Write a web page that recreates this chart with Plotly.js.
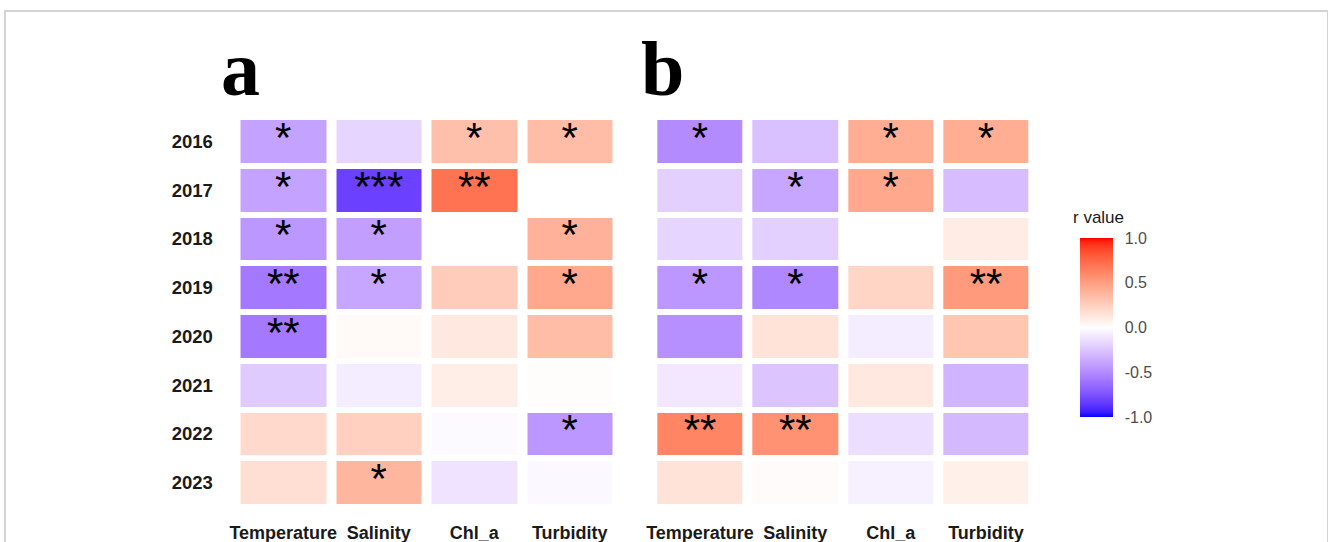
<!DOCTYPE html>
<html>
<head>
<meta charset="utf-8">
<script src="https://cdn.plot.ly/plotly-3.0.1.min.js"></script>
<style>
  html, body { margin: 0; padding: 0; background: #ffffff; }
  #chart { width: 1328px; height: 542px; }
  #frame {
    position: absolute; left: 4px; top: 10px; width: 1321px; height: 600px;
    border-top: 2px solid #d4d4d4; border-left: 2px solid #d4d4d4; border-right: 2px solid #d4d4d4;
    pointer-events: none;
  }
</style>
</head>
<body>
<div id="chart"></div>
<div id="frame"></div>
<script>
// Rows (years) and columns (environmental variables)
const years = ["2016", "2017", "2018", "2019", "2020", "2021", "2022", "2023"];
const variables = ["Temperature", "Salinity", "Chl_a", "Turbidity"];

// Panel a: correlation coefficients per variable, one value per year
const tempA = [-0.40, -0.40, -0.45, -0.58, -0.58, -0.22, 0.20, 0.17];
const salA  = [-0.18, -0.82, -0.42, -0.38, 0.03, -0.08, 0.25, 0.38];
const chlA  = [0.33, 0.70, 0.00, 0.27, 0.12, 0.09, -0.02, -0.12];
const turbA = [0.35, 0.00, 0.40, 0.45, 0.35, 0.01, -0.45, -0.03];

// Panel a: significance marks
const tempSigA = ["*", "*", "*", "**", "**", "", "", ""];
const salSigA  = ["", "***", "*", "*", "", "", "", "*"];
const chlSigA  = ["*", "**", "", "", "", "", "", ""];
const turbSigA = ["*", "", "*", "*", "", "", "*", ""];

// Panel b: correlation coefficients
const tempB = [-0.50, -0.20, -0.18, -0.45, -0.48, -0.10, 0.62, 0.15];
const salB  = [-0.27, -0.38, -0.20, -0.52, 0.15, -0.25, 0.56, 0.02];
const chlB  = [0.42, 0.45, 0.00, 0.22, -0.08, 0.12, -0.14, -0.06];
const turbB = [0.42, -0.28, 0.10, 0.52, 0.30, -0.32, -0.30, 0.08];

// Panel b: significance marks
const tempSigB = ["*", "", "", "*", "", "", "**", ""];
const salSigB  = ["", "*", "", "*", "", "", "**", ""];
const chlSigB  = ["*", "*", "", "", "", "", "", ""];
const turbSigB = ["*", "", "", "**", "", "", "", ""];

// Colour scale blue - white - red, interpolated in CIELAB
function srgbToLin(c) { c /= 255; return c <= 0.04045 ? c / 12.92 : Math.pow((c + 0.055) / 1.055, 2.4); }
function linToSrgb(c) { c = Math.max(0, Math.min(1, c)); return 255 * (c <= 0.0031308 ? 12.92 * c : 1.055 * Math.pow(c, 1 / 2.4) - 0.055); }
const WX = 0.95047, WY = 1.0, WZ = 1.08883;
function rgbToLab(rgb) {
  const r = srgbToLin(rgb[0]), g = srgbToLin(rgb[1]), b = srgbToLin(rgb[2]);
  const X = (0.4124 * r + 0.3576 * g + 0.1805 * b) / WX;
  const Y = (0.2126 * r + 0.7152 * g + 0.0722 * b) / WY;
  const Z = (0.0193 * r + 0.1192 * g + 0.9505 * b) / WZ;
  const f = t => t > 0.008856 ? Math.cbrt(t) : 7.787 * t + 16 / 116;
  const fx = f(X), fy = f(Y), fz = f(Z);
  return [116 * fy - 16, 500 * (fx - fy), 200 * (fy - fz)];
}
function labToRgb(lab) {
  const fy = (lab[0] + 16) / 116, fx = fy + lab[1] / 500, fz = fy - lab[2] / 200;
  const fi = t => t * t * t > 0.008856 ? t * t * t : (t - 16 / 116) / 7.787;
  const X = fi(fx) * WX, Y = fi(fy) * WY, Z = fi(fz) * WZ;
  const r = 3.2406 * X - 1.5372 * Y - 0.4986 * Z;
  const g = -0.9689 * X + 1.8758 * Y + 0.0415 * Z;
  const b = 0.0557 * X - 0.2040 * Y + 1.0570 * Z;
  return [linToSrgb(r), linToSrgb(g), linToSrgb(b)].map(Math.round);
}
function divergingScale(low, mid, high, n) {
  const L = rgbToLab(low), M = rgbToLab(mid), H = rgbToLab(high);
  const out = [];
  for (let i = 0; i <= n; i++) {
    const t = i / n;
    let a, b, u;
    if (t <= 0.5) { a = L; b = M; u = t / 0.5; } else { a = M; b = H; u = (t - 0.5) / 0.5; }
    const lab = [0, 1, 2].map(k => a[k] + (b[k] - a[k]) * u);
    const c = labToRgb(lab);
    out.push([t, "rgb(" + c.join(",") + ")"]);
  }
  return out;
}
const rScale = divergingScale([0, 0, 255], [255, 255, 255], [255, 0, 0], 40);

// Build z and text matrices (rows = years, columns = variables)
function matrix(cols) { return years.map((_, i) => cols.map(c => c[i])); }
const zA = matrix([tempA, salA, chlA, turbA]);
const zB = matrix([tempB, salB, chlB, turbB]);
const sigA = matrix([tempSigA, salSigA, chlSigA, turbSigA]);
const sigB = matrix([tempSigB, salSigB, chlSigB, turbSigB]);

function flatPoints(sig) {
  const xs = [], ys = [], ts = [];
  years.forEach((y, i) => variables.forEach((v, j) => {
    if (sig[i][j]) { xs.push(v); ys.push(y); ts.push(sig[i][j]); }
  }));
  return { xs, ys, ts };
}
const pA = flatPoints(sigA), pB = flatPoints(sigB);

const heatCommon = {
  type: "heatmap", x: variables, y: years,
  colorscale: rScale, zmin: -1, zmax: 1,
  xgap: 10, ygap: 6, hoverongaps: false
};

const traces = [
  Object.assign({}, heatCommon, { z: zA, xaxis: "x", yaxis: "y", showscale: false }),
  Object.assign({}, heatCommon, {
    z: zB, xaxis: "x2", yaxis: "y2", showscale: true,
    colorbar: {
      x: 1080 / 1328, xanchor: "left", xpad: 0,
      y: 1 - 417 / 542, yanchor: "bottom", ypad: 0,
      len: 179, lenmode: "pixels", thickness: 33, thicknessmode: "pixels",
      outlinewidth: 0,
      tickvals: [-1, -0.5, 0, 0.5, 1],
      ticktext: ["-1.0", "-0.5", "0.0", "0.5", "1.0"],
      ticks: "outside", ticklen: 9, tickcolor: "rgba(0,0,0,0)", tickwidth: 1,
      tickfont: { family: "Liberation Sans, Arial, sans-serif", size: 16, color: "#4d4d4d" }
    }
  }),
  {
    type: "scatter", mode: "text", x: pA.xs, y: pA.ys, text: pA.ts,
    xaxis: "x", yaxis: "y", textposition: "middle center",
    textfont: { family: "Liberation Sans, Arial, sans-serif", size: 42, color: "#000000" },
    hoverinfo: "skip", showlegend: false
  },
  {
    type: "scatter", mode: "text", x: pB.xs, y: pB.ys, text: pB.ts,
    xaxis: "x2", yaxis: "y2", textposition: "middle center",
    textfont: { family: "Liberation Sans, Arial, sans-serif", size: 42, color: "#000000" },
    hoverinfo: "skip", showlegend: false
  }
];

const xTickFont = { family: "Liberation Sans, Arial, sans-serif", size: 18, color: "#1a1a1a", weight: "bold" };
const yTickFont = { family: "Liberation Sans, Arial, sans-serif", size: 18.5, color: "#1a1a1a", weight: "bold" };
const yDomain = [1 - 507 / 542, 1 - 117 / 542];

const xCommon = {
  type: "category", categoryorder: "array", categoryarray: variables,
  showgrid: false, zeroline: false, showline: false,
  ticks: "outside", ticklen: 9, tickcolor: "rgba(0,0,0,0)",
  tickfont: xTickFont, fixedrange: true
};
const yCommon = {
  type: "category", categoryorder: "array", categoryarray: years, autorange: "reversed",
  showgrid: false, zeroline: false, showline: false, domain: yDomain,
  ticks: "outside", ticklen: 18, tickcolor: "rgba(0,0,0,0)",
  tickfont: yTickFont, fixedrange: true
};

const panelLetterFont = { family: "Liberation Serif, Times New Roman, serif", size: 78, color: "#000000", weight: "bold" };

const layout = {
  width: 1328, height: 542,
  margin: { l: 0, r: 0, t: 0, b: 0 },
  paper_bgcolor: "#ffffff", plot_bgcolor: "#ffffff",
  showlegend: false,
  xaxis: Object.assign({}, xCommon, { domain: [235.5 / 1328, 617.5 / 1328], anchor: "y" }),
  yaxis: Object.assign({}, yCommon, { anchor: "x" }),
  xaxis2: Object.assign({}, xCommon, { domain: [652.3 / 1328, 1033.7 / 1328], anchor: "y2" }),
  yaxis2: Object.assign({}, yCommon, { anchor: "x2", showticklabels: false }),
  annotations: [
    { text: "a", xref: "paper", yref: "paper", x: 240 / 1328, y: 1 - 114 / 542,
      xanchor: "center", yanchor: "bottom", showarrow: false, font: panelLetterFont },
    { text: "b", xref: "paper", yref: "paper", x: 662 / 1328, y: 1 - 114 / 542,
      xanchor: "center", yanchor: "bottom", showarrow: false, font: panelLetterFont },
    // Colour bar title
    { text: "r value", xref: "paper", yref: "paper", x: 1071 / 1328, y: 1 - 229 / 542,
      xanchor: "left", yanchor: "bottom", showarrow: false,
      font: { family: "Liberation Sans, Arial, sans-serif", size: 17, color: "#1a1a1a" } }
  ]
};

Plotly.newPlot("chart", traces, layout, { displayModeBar: false, staticPlot: true });
</script>
</body>
</html>
